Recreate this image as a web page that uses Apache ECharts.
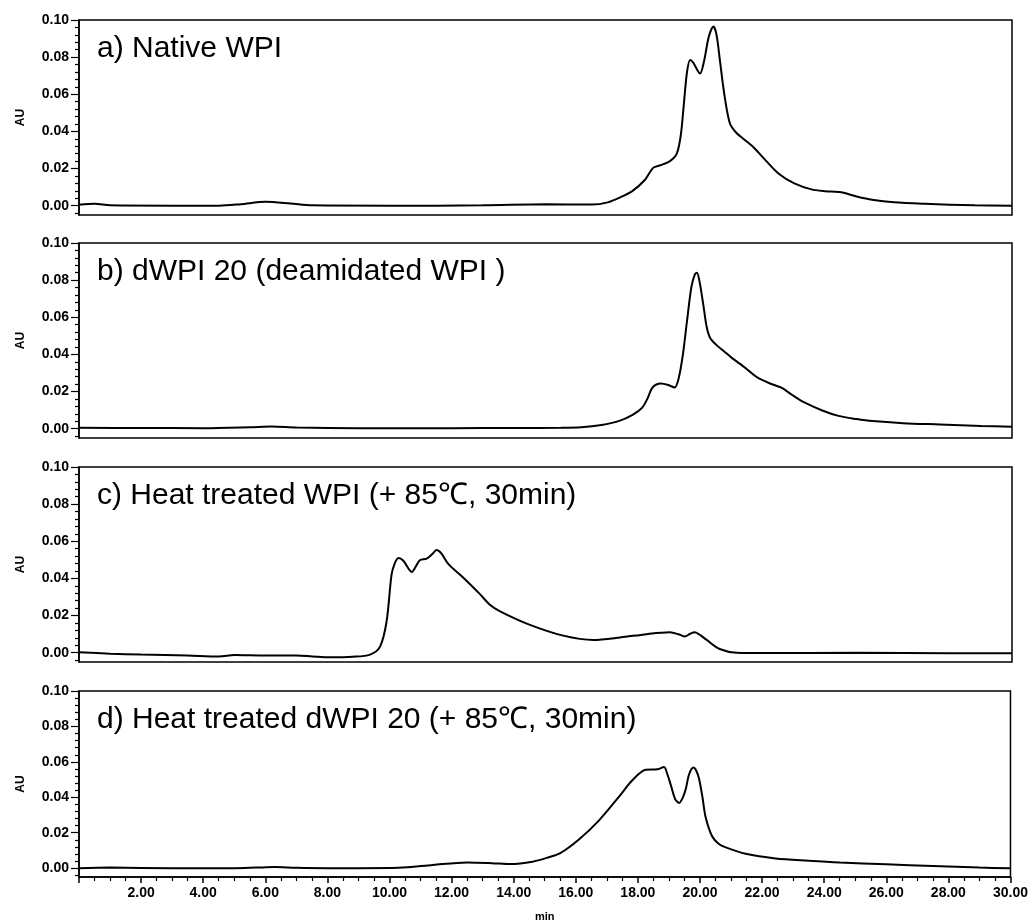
<!DOCTYPE html>
<html>
<head>
<meta charset="utf-8">
<script src="https://cdn.jsdelivr.net/npm/echarts@6/dist/echarts.min.js"></script>
<style>
  html, body { margin: 0; padding: 0; background: #fff; }
  #main { width: 1031px; height: 923px; }
</style>
</head>
<body>
<div id="main"></div>
<script>
// panel labels
var panelTitles = [
	'a) Native WPI',
	'b) dWPI 20 (deamidated WPI )',
	'c) Heat treated WPI (+ 85\u2103, 30min)',
	'd) Heat treated dWPI 20 (+ 85\u2103, 30min)'
];

// chromatograms: [min, AU]
var nativeWPI = [
	[0, 0.0005], [0.5, 0.001], [1, 0.0002], [3, 0], [4.5, 0], [5.2, 0.0008], [6.0, 0.0021], [6.8, 0.0012],
	[7.5, 0.0002], [10, 0], [13, 0.0002], [15, 0.0008], [16.5, 0.0006], [17.0, 0.0018], [17.4, 0.0045],
	[17.8, 0.008], [18.2, 0.014], [18.47, 0.0205], [18.7, 0.0218], [19.0, 0.024], [19.22, 0.028],
	[19.35, 0.038], [19.45, 0.055], [19.55, 0.072], [19.65, 0.0785], [19.75, 0.077], [19.97, 0.0712],
	[20.1, 0.078], [20.25, 0.091], [20.4, 0.0965], [20.5, 0.092], [20.61, 0.078], [20.75, 0.06],
	[20.93, 0.0443], [21.15, 0.039], [21.4, 0.0355], [21.68, 0.0316], [22.1, 0.024], [22.5, 0.0172],
	[23.0, 0.012], [23.55, 0.0088], [24.0, 0.0078], [24.5, 0.0072], [25.0, 0.005], [25.5, 0.0032],
	[26.2, 0.0018], [27.2, 0.001], [28.8, 0.0002], [30, 0]
];
var deamidWPI = [
	[0, 0.0005], [2, 0.0004], [4, 0.0003], [5.5, 0.0008], [6.2, 0.0012], [7, 0.0006], [9, 0.0003],
	[12, 0.0003], [14, 0.0004], [15.5, 0.0005], [16.15, 0.0008], [16.8, 0.002], [17.35, 0.0041],
	[17.8, 0.0075], [18.11, 0.0114], [18.3, 0.017], [18.44, 0.0222], [18.71, 0.0243], [18.95, 0.0235],
	[19.15, 0.0222], [19.28, 0.027], [19.42, 0.0402], [19.55, 0.058], [19.69, 0.0762], [19.8, 0.083],
	[19.87, 0.084], [19.95, 0.0795], [20.07, 0.0672], [20.18, 0.055], [20.29, 0.049], [20.5, 0.045],
	[20.72, 0.042], [21.0, 0.038], [21.27, 0.0348], [21.55, 0.031], [21.81, 0.0276], [22.2, 0.0245],
	[22.57, 0.0222], [22.95, 0.018], [23.34, 0.014], [23.9, 0.0098], [24.42, 0.0069], [25, 0.0052],
	[25.51, 0.0041], [26.5, 0.003], [27.69, 0.0023], [29, 0.0015], [30, 0.0011]
];
var heatWPI = [
	[0, 0.0003], [1, -0.0005], [2, -0.001], [3.5, -0.0015], [4.5, -0.002], [5, -0.0012], [6, -0.0015],
	[7, -0.0015], [7.5, -0.002], [8.07, -0.0025], [8.8, -0.0022], [9.36, -0.001], [9.68, 0.0033],
	[9.89, 0.0168], [10.05, 0.042], [10.15, 0.048], [10.27, 0.051], [10.43, 0.0495], [10.7, 0.0435],
	[10.85, 0.047], [10.96, 0.0498], [11.18, 0.0507], [11.35, 0.053], [11.5, 0.0553], [11.65, 0.0535],
	[11.88, 0.0477], [12.36, 0.0404], [12.9, 0.0314], [13.2, 0.026], [13.54, 0.0223], [14.5, 0.015],
	[15.57, 0.0092], [16.54, 0.0069], [17.4, 0.0082], [18.25, 0.01], [19.0, 0.011], [19.3, 0.0098],
	[19.48, 0.0087], [19.65, 0.0102], [19.8, 0.011], [20.0, 0.0092], [20.18, 0.0069], [20.6, 0.002],
	[21.15, 0], [22, -0.0002], [25, 0], [28, -0.0003], [30, -0.0003]
];
var heatDeamidWPI = [
	[0, 0], [1, 0.0003], [3, 0], [5, 0], [5.7, 0.0003], [6.3, 0.0006], [7, 0.0002], [8, 0], [9, 0],
	[10.3, 0.0002], [11.4, 0.0018], [12.5, 0.0032], [13.3, 0.0028], [13.9, 0.0023], [14.6, 0.0036],
	[15.1, 0.006], [15.5, 0.0085], [16.1, 0.0162], [16.75, 0.027], [17.4, 0.0405], [17.82, 0.0496],
	[18.25, 0.0555], [18.63, 0.0558], [18.84, 0.0571], [18.95, 0.053], [19.06, 0.0469], [19.2, 0.039],
	[19.33, 0.0368], [19.45, 0.04], [19.54, 0.0445], [19.65, 0.053], [19.79, 0.0568], [19.88, 0.055],
	[19.97, 0.0505], [20.08, 0.04], [20.18, 0.0289], [20.39, 0.018], [20.6, 0.0138], [20.83, 0.0117],
	[21.47, 0.0081], [22.43, 0.0055], [23.5, 0.0042], [24.5, 0.0032], [26, 0.0022], [27.5, 0.0012],
	[29, 0.0003], [30, 0]
];
var allSeries = [nativeWPI, deamidWPI, heatWPI, heatDeamidWPI];

// axis ticks
var yLabelTicks = [0, 0.02, 0.04, 0.06, 0.08, 0.10];
var yMinorTicks = [-0.004, 0.004, 0.008, 0.012, 0.016, 0.024, 0.028, 0.032, 0.036, 0.044, 0.048, 0.052, 0.056,
	0.064, 0.068, 0.072, 0.076, 0.084, 0.088, 0.092, 0.096];
var xMin = 0, xMax = 30, xStep = 2;

var gridTops = [20, 243, 467, 691];
var gridHeight = 195;
var labelFont = 'Liberation Sans, Arial, sans-serif';

var chart = echarts.init(document.getElementById('main'));

var grids = [], xAxes = [], yAxes = [], series = [], texts = [];
for (var i = 0; i < 4; i++) {
	var last = (i == 3);
	grids.push({
		left: 79, right: 19, top: gridTops[i], height: gridHeight,
		show: true, borderColor: '#000', borderWidth: 1.5, backgroundColor: 'transparent'
	});
	xAxes.push({
		type: 'value', gridIndex: i, min: xMin, max: xMax, interval: xStep,
		name: last ? 'min' : '', nameLocation: 'middle', nameGap: 34,
		nameTextStyle: { color: '#000', fontSize: 11, fontWeight: 'bold', fontFamily: labelFont },
		axisLine: { show: last, onZero: false, lineStyle: { color: '#000', width: 1.5 } },
		axisTick: { show: last, length: 6, lineStyle: { color: '#000', width: 1.5 } },
		minorTick: { show: last, splitNumber: 4, length: 4, lineStyle: { color: '#000', width: 1.2 } },
		axisLabel: {
			show: last, showMinLabel: false, margin: 9, color: '#000', fontSize: 14, fontWeight: 'bold',
			fontFamily: labelFont,
			formatter: function(v) { return v.toFixed(2); }
		},
		splitLine: { show: false }
	});
	// labelled axis with major ticks
	yAxes.push({
		type: 'value', gridIndex: i, min: -0.005, max: 0.1,
		name: 'AU', nameLocation: 'middle', nameGap: 52, nameRotate: 90,
		nameTextStyle: { color: '#000', fontSize: 12, fontWeight: 'bold', fontFamily: labelFont },
		axisLine: { show: true, lineStyle: { color: '#000', width: 1.5 } },
		axisTick: { show: true, customValues: yLabelTicks, length: 8, lineStyle: { color: '#000', width: 1.2 } },
		axisLabel: {
			customValues: yLabelTicks, margin: 10, color: '#000', fontSize: 14, fontWeight: 'bold',
			fontFamily: labelFont,
			formatter: function(v) { return v.toFixed(2); }
		},
		splitLine: { show: false }
	});
	// second axis only for the small ticks
	yAxes.push({
		type: 'value', gridIndex: i, min: -0.005, max: 0.1, position: 'left',
		axisLine: { show: false },
		axisTick: { show: true, customValues: yMinorTicks, length: 4, lineStyle: { color: '#000', width: 1.2 } },
		axisLabel: { show: false },
		splitLine: { show: false }
	});
	series.push({
		type: 'line', xAxisIndex: i, yAxisIndex: i * 2, data: allSeries[i],
		showSymbol: false, smooth: 0.3,
		lineStyle: { color: '#000', width: 2 }
	});
	texts.push({
		type: 'text', left: 97, top: gridTops[i] + 14,
		style: { text: panelTitles[i], fill: '#000', font: '30px ' + labelFont }
	});
}

chart.setOption({
	backgroundColor: '#fff',
	animation: false,
	grid: grids,
	xAxis: xAxes,
	yAxis: yAxes,
	series: series,
	graphic: texts
});
</script>
</body>
</html>
